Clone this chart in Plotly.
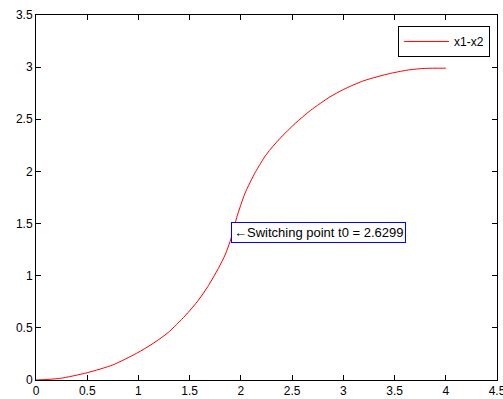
import plotly.graph_objects as go

x_vals = [0, 0.23, 0.5, 0.75, 0.98, 1.15, 1.29, 1.455, 1.585, 1.683, 1.78, 1.846, 1.895, 1.927, 1.96, 2.04, 2.14, 2.25, 2.38, 2.53, 2.68, 2.87, 3.0, 3.2, 3.46, 3.65, 3.8, 4.0]
y_vals = [0, 0.015, 0.07, 0.145, 0.255, 0.355, 0.455, 0.615, 0.765, 0.905, 1.07, 1.2, 1.33, 1.44, 1.56, 1.79, 1.99, 2.165, 2.315, 2.46, 2.585, 2.715, 2.785, 2.87, 2.94, 2.975, 2.988, 2.99]
series_name = "x1-x2"
annot_x = 1.9
annot_y = 1.41
annot_text = "\u2190Switching point t0 = 2.6299"

fig = go.Figure()
fig.add_trace(go.Scatter(x=x_vals, y=y_vals, mode="lines", name=series_name,
                         line=dict(color="#ff0000", width=1, shape="spline", smoothing=0.7),
                         showlegend=True))

fig.add_annotation(x=annot_x, y=annot_y, text=annot_text, showarrow=False,
                   xanchor="left", yanchor="middle", bordercolor="#0000ff",
                   borderwidth=1, borderpad=2, bgcolor="white",
                   font=dict(family="Liberation Sans, Arial", size=13, color="#000000"))

axis_common = dict(showgrid=False, zeroline=False, ticks="inside", ticklen=5,
                   tickcolor="#000000", showline=True, linecolor="#000000", linewidth=1,
                   mirror="ticks", automargin=False, ticklabeloverflow="allow",
                   tickfont=dict(family="Liberation Sans, Arial", size=12, color="#000000"))

fig.update_xaxes(range=[0, 4.5], dtick=0.5, tick0=0, ticklabelstandoff=0, **axis_common)
fig.update_yaxes(range=[0, 3.5], dtick=0.5, tick0=0, ticklabelstandoff=0, **axis_common)

fig.update_layout(width=503, height=399, margin=dict(l=36, r=6, t=15, b=19),
                  plot_bgcolor="white", paper_bgcolor="white",
                  legend=dict(x=0.985, y=0.97, xanchor="right", yanchor="top",
                              bordercolor="#000000", borderwidth=1, bgcolor="white",
                              font=dict(family="Liberation Sans, Arial", size=12, color="#000000"),
                              itemwidth=45))

fig.write_html("out.html", config={"displayModeBar": False},
               post_script="document.body.style.margin='0';document.body.style.overflow='hidden';")
